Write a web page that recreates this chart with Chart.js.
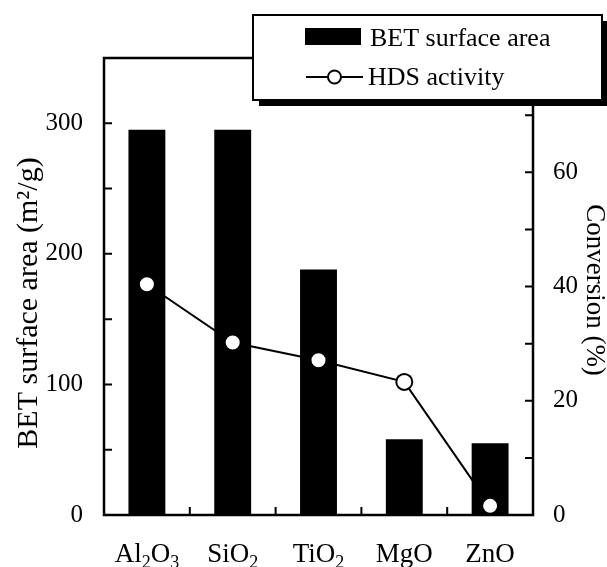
<!DOCTYPE html>
<html>
<head>
<meta charset="utf-8">
<script src="https://cdn.jsdelivr.net/npm/chart.js@4.4.1/dist/chart.umd.min.js"></script>
<style>
  html, body { margin: 0; padding: 0; background: #fff; }
  canvas { display: block; }
</style>
</head>
<body>
<canvas id="grafico" width="607" height="567"></canvas>
<script>
// ==================== DADOS ====================
const categories = ["Al2O3", "SiO2", "TiO2", "MgO", "ZnO"];
const betArea = [295, 295, 188, 58, 55];              // m2/g
const hdsConversion = [40.4, 30.2, 27.1, 23.3, 1.6];  // %
const leftTickLabels = [0, 100, 200, 300];
const rightTickLabels = [0, 20, 40, 60];
const leftTitle = "BET surface area (m²/g)";
const rightTitle = "Conversion (%)";

const FONT = "'Liberation Serif', 'Times New Roman', serif";
Chart.defaults.font.family = FONT;
Chart.defaults.color = "#000";

// ==================== MOLDURA, TICKS, TEXTOS, LEGENDA ====================
const extras = {
  id: "extras",
  afterDraw(chart) {
    const { ctx, chartArea: a, scales } = chart;
    ctx.save();
    ctx.strokeStyle = "#000";
    ctx.fillStyle = "#000";

    // moldura
    ctx.lineWidth = 2.5;
    ctx.strokeRect(a.left, a.top, a.right - a.left, a.bottom - a.top);

    // ticks para dentro
    const TL = 8;
    ctx.lineWidth = 2;
    ctx.beginPath();
    scales.y.ticks.forEach((t, i) => {
      const py = scales.y.getPixelForTick(i);
      ctx.moveTo(a.left, py);
      ctx.lineTo(a.left + TL, py);
    });
    scales.y1.ticks.forEach((t, i) => {
      const py = scales.y1.getPixelForTick(i);
      ctx.moveTo(a.right, py);
      ctx.lineTo(a.right - TL, py);
    });
    for (let i = 0; i < categories.length - 1; i++) {
      const px = (scales.x.getPixelForValue(i) + scales.x.getPixelForValue(i + 1)) / 2;
      ctx.moveTo(px, a.bottom);
      ctx.lineTo(px, a.bottom - TL);
    }
    ctx.stroke();

    // rótulos do eixo x com subscrito
    ctx.textBaseline = "alphabetic";
    ctx.textAlign = "left";
    const fontFor = (p) => (/^\d+$/.test(p) ? "18px " : "27px ") + FONT;
    categories.forEach((lab, i) => {
      const parts = lab.split(/(\d+)/).filter(Boolean);
      let w = 0;
      parts.forEach((p) => {
        ctx.font = fontFor(p);
        w += ctx.measureText(p).width;
      });
      let x = scales.x.getPixelForValue(i) - w / 2;
      parts.forEach((p) => {
        const sub = /^\d+$/.test(p);
        ctx.font = fontFor(p);
        ctx.fillText(p, x, a.bottom + (sub ? 53 : 47));
        x += ctx.measureText(p).width;
      });
    });

    // títulos dos eixos
    ctx.textAlign = "center";
    ctx.font = "30px " + FONT;
    ctx.save();
    ctx.translate(37, 303);
    ctx.rotate(-Math.PI / 2);
    ctx.fillText(leftTitle, 0, 0);
    ctx.restore();
    ctx.font = "27px " + FONT;
    ctx.save();
    ctx.translate(587, 290);
    ctx.rotate(Math.PI / 2);
    ctx.fillText(rightTitle, 0, 0);
    ctx.restore();

    // legenda com sombra
    const lx = 253, ly = 15, lw = 349, lh = 85;
    ctx.fillStyle = "#000";
    ctx.fillRect(lx + 6, ly + 6, lw, lh);
    ctx.fillStyle = "#fff";
    ctx.fillRect(lx, ly, lw, lh);
    ctx.lineWidth = 2;
    ctx.strokeRect(lx, ly, lw, lh);

    const dsLine = chart.data.datasets[0];
    const dsBar = chart.data.datasets[1];
    ctx.fillStyle = "#000";
    ctx.fillRect(305, 28, 56, 17);
    ctx.beginPath();
    ctx.moveTo(306, 77);
    ctx.lineTo(363, 77);
    ctx.stroke();
    ctx.beginPath();
    ctx.arc(334.5, 77, 6.5, 0, Math.PI * 2);
    ctx.fillStyle = "#fff";
    ctx.fill();
    ctx.stroke();

    ctx.fillStyle = "#000";
    ctx.textAlign = "left";
    ctx.font = "26px " + FONT;
    ctx.fillText(dsBar.label, 370, 46);
    ctx.fillText(dsLine.label, 368, 85);

    ctx.restore();
  },
};

// ==================== GRÁFICO ====================
new Chart(document.getElementById("grafico"), {
  type: "bar",
  data: {
    labels: categories,
    datasets: [
      {
        type: "line",
        label: "HDS activity",
        data: hdsConversion,
        yAxisID: "y1",
        borderColor: "#000",
        borderWidth: 2,
        tension: 0,
        pointRadius: 8,
        pointBorderWidth: 2,
        pointBackgroundColor: "#fff",
        pointBorderColor: "#000",
        order: 0,
      },
      {
        type: "bar",
        label: "BET surface area",
        data: betArea,
        yAxisID: "y",
        backgroundColor: "#000",
        barPercentage: 0.43,
        categoryPercentage: 1,
        order: 1,
      },
    ],
  },
  options: {
    responsive: false,
    animation: false,
    layout: { padding: { top: 58, left: 0, right: 0, bottom: 0 } },
    plugins: {
      legend: { display: false },
      tooltip: { enabled: false },
    },
    scales: {
      x: {
        grid: { display: false, drawTicks: false },
        border: { display: false },
        ticks: { display: false },
        afterFit: (s) => {
          s.height = 52;
          s.paddingLeft = 0;
          s.paddingRight = 0;
        },
      },
      y: {
        position: "left",
        min: 0,
        max: 350,
        grid: { display: false, drawTicks: false },
        border: { display: false },
        ticks: {
          stepSize: 50,
          padding: 21,
          color: "#000",
          font: { size: 25 },
          callback: (v) => (leftTickLabels.includes(v) ? v : ""),
        },
        afterFit: (s) => {
          s.width = 104;
          s.paddingTop = 0;
          s.paddingBottom = 0;
        },
      },
      y1: {
        position: "right",
        min: 0,
        max: 80,
        grid: { display: false, drawTicks: false },
        border: { display: false },
        ticks: {
          stepSize: 10,
          padding: 20,
          color: "#000",
          font: { size: 25 },
          callback: (v) => (rightTickLabels.includes(v) ? v : ""),
        },
        afterFit: (s) => {
          s.width = 74;
          s.paddingTop = 0;
          s.paddingBottom = 0;
        },
      },
    },
  },
  plugins: [extras],
});
</script>
</body>
</html>
